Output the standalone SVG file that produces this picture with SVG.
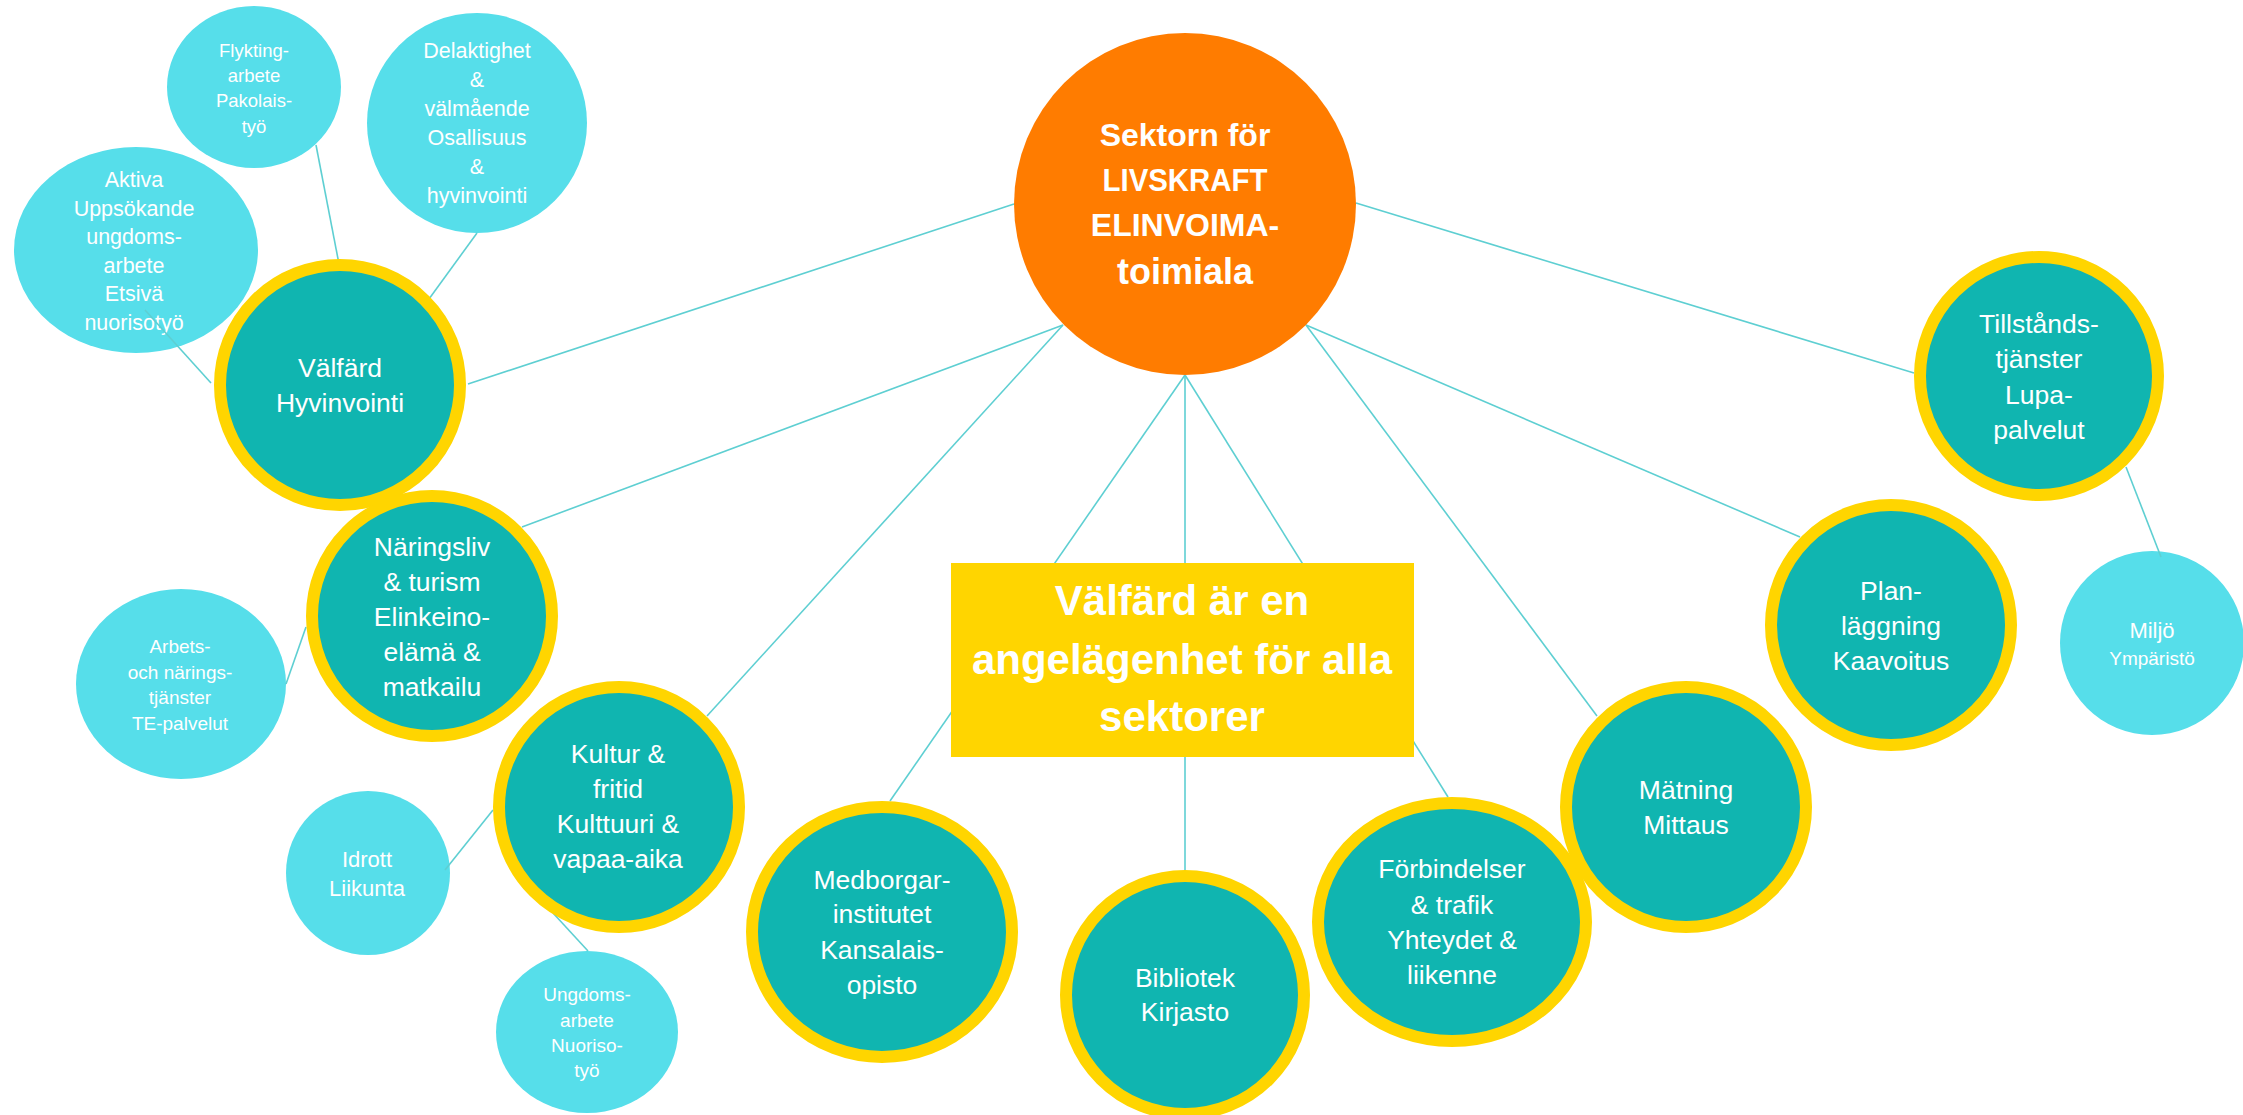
<svg xmlns="http://www.w3.org/2000/svg" width="2243" height="1115" viewBox="0 0 2243 1115">
<style>
.bg{fill:#FFFFFF}
.ring{fill:#10B5B0;stroke:#FFD500;stroke-width:12}
.light{fill:#56DEEA}
.core{fill:#FF7C00}
.box{fill:#FFD500}
.ln{stroke:#5ECFD2;stroke-width:1.6;fill:none}
text{font-family:"Liberation Sans",Arial,sans-serif;fill:#FFFFFF;text-anchor:middle}
.t{font-size:26.5px}
.b{font-weight:bold}
</style>
<rect class="bg" x="0" y="0" width="2243" height="1115"/>

<g id="node-aktiva">
<ellipse class="light" cx="136" cy="250" rx="122" ry="103"/>
<text style="font-size:21.5px"><tspan x="134" y="187">Aktiva</tspan><tspan x="134" y="215.6">Uppsökande</tspan><tspan x="134" y="244.2">ungdoms-</tspan><tspan x="134" y="272.8">arbete</tspan><tspan x="134" y="301.4">Etsivä</tspan><tspan x="134" y="330">nuorisotyö</tspan></text>
</g>
<g id="node-flykting">
<ellipse class="light" cx="254" cy="87" rx="87" ry="81"/>
<text style="font-size:18.5px"><tspan x="254" y="57">Flykting-</tspan><tspan x="254" y="82">arbete</tspan><tspan x="254" y="107">Pakolais-</tspan><tspan x="254" y="133">työ</tspan></text>
</g>
<g id="node-delaktighet">
<ellipse class="light" cx="477" cy="123" rx="110" ry="110"/>
<text style="font-size:21.5px"><tspan x="477" y="58">Delaktighet</tspan><tspan x="477" y="87">&amp;</tspan><tspan x="477" y="116">välmående</tspan><tspan x="477" y="145">Osallisuus</tspan><tspan x="477" y="174">&amp;</tspan><tspan x="477" y="203">hyvinvointi</tspan></text>
</g>
<g id="node-arbets">
<ellipse class="light" cx="181" cy="684" rx="105" ry="95"/>
<text style="font-size:19px"><tspan x="180" y="653">Arbets-</tspan><tspan x="180" y="679">och närings-</tspan><tspan x="180" y="704">tjänster</tspan><tspan x="180" y="730">TE-palvelut</tspan></text>
</g>
<g id="node-idrott">
<circle class="light" cx="368" cy="873" r="82"/>
<text style="font-size:22px"><tspan x="367" y="867">Idrott</tspan><tspan x="367" y="896">Liikunta</tspan></text>
</g>
<g id="node-ungdoms">
<ellipse class="light" cx="587" cy="1032" rx="91" ry="81"/>
<text style="font-size:19px"><tspan x="587" y="1001">Ungdoms-</tspan><tspan x="587" y="1027">arbete</tspan><tspan x="587" y="1052">Nuoriso-</tspan><tspan x="587" y="1077">työ</tspan></text>
</g>
<g id="node-miljo">
<circle class="light" cx="2152" cy="643" r="92"/>
<text><tspan x="2152" y="638" style="font-size:22px">Miljö</tspan><tspan x="2152" y="665" style="font-size:19px">Ympäristö</tspan></text>
</g>

<g id="connectors">
<line class="ln" x1="1014" y1="204" x2="468" y2="384"/>
<line class="ln" x1="1063" y1="325" x2="522" y2="527"/>
<line class="ln" x1="1063" y1="325" x2="707" y2="716"/>
<line class="ln" x1="1185" y1="375" x2="890" y2="801"/>
<line class="ln" x1="1185" y1="375" x2="1185" y2="870"/>
<line class="ln" x1="1185" y1="375" x2="1448" y2="797"/>
<line class="ln" x1="1306" y1="325" x2="1597" y2="716"/>
<line class="ln" x1="1306" y1="325" x2="1800" y2="537"/>
<line class="ln" x1="1356" y1="203" x2="1914" y2="373"/>
<line class="ln" x1="316" y1="145" x2="339" y2="264"/>
<line class="ln" x1="477" y1="233" x2="429" y2="299"/>
<line class="ln" x1="145" y1="310" x2="211" y2="383"/>
<line class="ln" x1="286" y1="684" x2="306" y2="627"/>
<line class="ln" x1="445" y1="870" x2="493" y2="810"/>
<line class="ln" x1="553" y1="913" x2="588" y2="951"/>
<line class="ln" x1="2126" y1="467" x2="2161" y2="557"/>
</g>

<g id="node-valfard">
<circle class="ring" cx="340" cy="385" r="120"/>
<text class="t"><tspan x="340" y="377">Välfärd</tspan><tspan x="340" y="412">Hyvinvointi</tspan></text>
</g>
<g id="node-naringsliv">
<circle class="ring" cx="432" cy="616" r="120"/>
<text class="t"><tspan x="432" y="556">Näringsliv</tspan><tspan x="432" y="591">&amp; turism</tspan><tspan x="432" y="626">Elinkeino-</tspan><tspan x="432" y="661">elämä &amp;</tspan><tspan x="432" y="696">matkailu</tspan></text>
</g>
<g id="node-kultur">
<circle class="ring" cx="619" cy="807" r="120"/>
<text class="t"><tspan x="618" y="763">Kultur &amp;</tspan><tspan x="618" y="798">fritid</tspan><tspan x="618" y="833">Kulttuuri &amp;</tspan><tspan x="618" y="868">vapaa-aika</tspan></text>
</g>
<g id="node-medborgar">
<ellipse class="ring" cx="882" cy="932" rx="130" ry="125"/>
<text class="t"><tspan x="882" y="889">Medborgar-</tspan><tspan x="882" y="923">institutet</tspan><tspan x="882" y="959">Kansalais-</tspan><tspan x="882" y="994">opisto</tspan></text>
</g>
<g id="node-bibliotek">
<circle class="ring" cx="1185" cy="995" r="119"/>
<text class="t"><tspan x="1185" y="987">Bibliotek</tspan><tspan x="1185" y="1021">Kirjasto</tspan></text>
</g>
<g id="node-forbindelser">
<ellipse class="ring" cx="1452" cy="922" rx="134" ry="119"/>
<text class="t"><tspan x="1452" y="878">Förbindelser</tspan><tspan x="1452" y="914">&amp; trafik</tspan><tspan x="1452" y="949">Yhteydet &amp;</tspan><tspan x="1452" y="984">liikenne</tspan></text>
</g>
<g id="node-matning">
<circle class="ring" cx="1686" cy="807" r="120"/>
<text class="t"><tspan x="1686" y="799">Mätning</tspan><tspan x="1686" y="834">Mittaus</tspan></text>
</g>
<g id="node-planlaggning">
<circle class="ring" cx="1891" cy="625" r="120"/>
<text class="t"><tspan x="1891" y="600">Plan-</tspan><tspan x="1891" y="635">läggning</tspan><tspan x="1891" y="670">Kaavoitus</tspan></text>
</g>
<g id="node-tillstands">
<circle class="ring" cx="2039" cy="376" r="119"/>
<text class="t"><tspan x="2039" y="333">Tillstånds-</tspan><tspan x="2039" y="368">tjänster</tspan><tspan x="2039" y="404">Lupa-</tspan><tspan x="2039" y="439">palvelut</tspan></text>
</g>

<g id="node-sektorn">
<circle class="core" cx="1185" cy="204" r="171"/>
<text class="b" style="font-size:32px"><tspan x="1185" y="146">Sektorn för</tspan><tspan x="1185" y="191" textLength="165" lengthAdjust="spacingAndGlyphs">LIVSKRAFT</tspan><tspan x="1185" y="236">ELINVOIMA-</tspan><tspan x="1185" y="284" style="font-size:36px">toimiala</tspan></text>
</g>

<g id="node-valfard-box">
<rect class="box" x="951" y="563" width="463" height="194"/>
<text class="b" style="font-size:42px"><tspan x="1182" y="615">Välfärd är en</tspan><tspan x="1182" y="674">angelägenhet för alla</tspan><tspan x="1182" y="731">sektorer</tspan></text>
</g>
</svg>
